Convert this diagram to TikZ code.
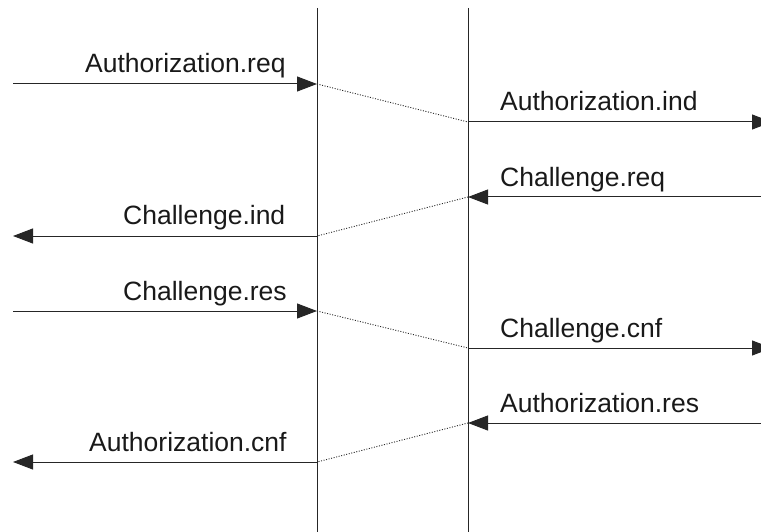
\documentclass[tikz,border=0pt]{standalone}
\usepackage{fontspec}
\setmainfont{Liberation Sans}
\usetikzlibrary{arrows.meta}
\begin{document}
\begin{tikzpicture}[x=1pt,y=-1pt,
  life/.style={line width=1pt, black!85},
  msg/.style={line width=1pt, black!85, -{Triangle[length=20pt,width=15pt]}},
  relay/.style={line width=0.9pt, black!85, dash pattern=on 1pt off 1.6pt},
  lbl/.style={font=\fontsize{26.5}{30}\selectfont, text=black!90, inner sep=0pt, anchor=base west}]
\useasboundingbox (0,0) rectangle (761,532);
\clip (0,0) rectangle (761,532);

% lifelines of the two layers
\coordinate (Ltop) at (317,8);   \coordinate (Lbot) at (317,540);
\coordinate (Rtop) at (468,8);   \coordinate (Rbot) at (468,540);
\draw[life] (Ltop) -- (Lbot);
\draw[life] (Rtop) -- (Rbot);

% message end points
\coordinate (a1) at (13,84);   \coordinate (b1) at (317,84);
\coordinate (a2) at (468,122); \coordinate (b2) at (772,122);
\coordinate (a3) at (772,197); \coordinate (b3) at (468,197);
\coordinate (a4) at (317,236); \coordinate (b4) at (13,236);
\coordinate (a5) at (13,311);  \coordinate (b5) at (317,311);
\coordinate (a6) at (468,348); \coordinate (b6) at (772,348);
\coordinate (a7) at (772,423); \coordinate (b7) at (468,423);
\coordinate (a8) at (317,462); \coordinate (b8) at (13,462);

% primitives
\draw[msg] (a1) -- (b1);
\draw[msg] (a2) -- (b2);
\draw[msg] (a3) -- (b3);
\draw[msg] (a4) -- (b4);
\draw[msg] (a5) -- (b5);
\draw[msg] (a6) -- (b6);
\draw[msg] (a7) -- (b7);
\draw[msg] (a8) -- (b8);

% relays across the layer
\draw[relay] (b1) -- (a2);
\draw[relay] (b3) -- (a4);
\draw[relay] (b5) -- (a6);
\draw[relay] (b7) -- (a8);

% labels
\node[lbl] (t1) at (85,73)   {Authorization.req};
\node[lbl] (t2) at (500,111) {Authorization.ind};
\node[lbl] (t3) at (500,186) {Challenge.req};
\node[lbl] (t4) at (123,225) {Challenge.ind};
\node[lbl] (t5) at (123,300) {Challenge.res};
\node[lbl] (t6) at (500,337) {Challenge.cnf};
\node[lbl] (t7) at (500,412) {Authorization.res};
\node[lbl] (t8) at (89,451)  {Authorization.cnf};
\end{tikzpicture}
\end{document}
